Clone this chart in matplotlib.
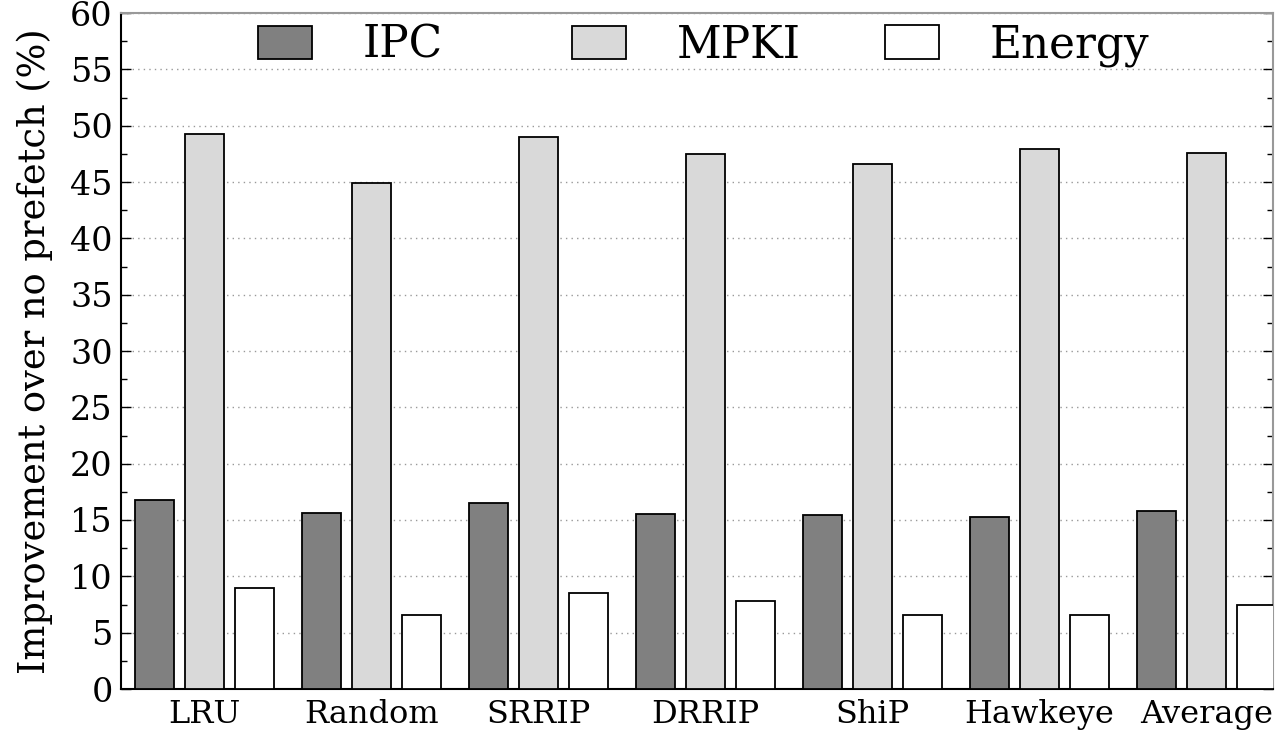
import numpy as np
import matplotlib
matplotlib.use("Agg")
import matplotlib.pyplot as plt
from matplotlib.ticker import MultipleLocator

# Improvement of each replacement policy over no prefetching
policies = ["LRU", "Random", "SRRIP", "DRRIP", "ShiP", "Hawkeye", "Average"]
ipc = [16.8, 15.6, 16.5, 15.5, 15.4, 15.3, 15.8]
mpki = [49.3, 44.9, 49.0, 47.5, 46.6, 47.9, 47.6]
energy = [9.0, 6.6, 8.55, 7.85, 6.6, 6.6, 7.45]

plt.rcParams["font.family"] = ["DejaVu Serif"]

W, H = 1275, 731
fig = plt.figure(figsize=(W / 100, H / 100), dpi=100)
ax = fig.add_axes([121 / W, 1 - 689 / H, 1152 / W, (689 - 13) / H])

x = np.arange(len(policies))
w = 0.233
off = 0.3
b1 = ax.bar(x - off, ipc, w, color="#808080", edgecolor="black", linewidth=1.3, label="IPC", zorder=3)
b2 = ax.bar(x, mpki, w, color="#d9d9d9", edgecolor="black", linewidth=1.3, label="MPKI", zorder=3)
b3 = ax.bar(x + off, energy, w, color="white", edgecolor="black", linewidth=1.3, label="Energy", zorder=3)

ax.set_xlim(-0.5, 6.4)
ax.set_ylim(0, 60)
ax.yaxis.set_major_locator(MultipleLocator(5))
ax.yaxis.set_minor_locator(MultipleLocator(2.5))
ax.tick_params(axis="y", which="both", direction="in", right=True, labelsize=24, pad=6)
ax.tick_params(axis="y", which="major", length=7, width=1)
ax.tick_params(axis="y", which="minor", length=4, width=1)
ax.tick_params(axis="x", length=0, labelsize=23, pad=7)
ax.set_xticks(x)
ax.set_xticklabels(policies)
ax.grid(axis="y", linestyle=(0, (1, 3)), color="#999999", linewidth=1.0, zorder=0)

for s in ["left", "bottom"]:
    ax.spines[s].set_linewidth(1.5)
for s in ["top", "right"]:
    ax.spines[s].set_color("#999999")
    ax.spines[s].set_linewidth(1.5)

ax.set_ylabel("Improvement over no prefetch (%)", fontsize=26.5, labelpad=12)

# one key per column, evenly spaced
for bars, lab, xpx in [(b1, "IPC", 258), (b2, "MPKI", 572), (b3, "Energy", 885)]:
    leg = fig.legend([bars], [lab], loc="center left",
                     bbox_to_anchor=(xpx / W, 1 - 45 / H), frameon=False,
                     fontsize=31.5, handlelength=1.23, handleheight=0.8,
                     handletextpad=1.17, borderpad=0, borderaxespad=0)

fig.savefig("out.png", dpi=100)
